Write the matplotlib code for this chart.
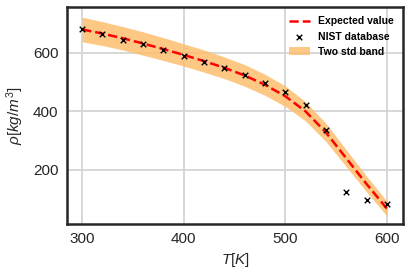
import matplotlib
matplotlib.use("Agg")
import matplotlib.pyplot as plt
import numpy as np

# Data
T_nist = [300, 320, 340, 360, 380, 400, 420, 440, 460, 480, 500, 520, 540, 560, 580, 600]
rho_nist = [681, 663, 645, 629, 610, 590, 569, 548, 523, 498, 465, 421, 337, 124, 97, 83]

T_pred = [300, 320, 340, 360, 380, 400, 420, 440, 460, 480, 500, 520, 540, 560, 580, 600]
rho_pred = [680, 666, 650, 632, 613, 593, 572, 549, 523, 491, 452, 400, 328, 240, 152, 68]
two_std = [42, 41, 40, 40, 39, 38, 38, 37, 37, 36, 35, 33, 31, 29, 27, 25]

plt.rcParams['font.family'] = ['Liberation Sans', 'DejaVu Sans']
plt.rcParams['mathtext.fontset'] = 'custom'
plt.rcParams['mathtext.it'] = 'Liberation Sans:italic'
plt.rcParams['mathtext.rm'] = 'Liberation Sans'

fig = plt.figure(figsize=(4.08, 2.78), dpi=100)
ax = fig.add_axes([0.164, 0.194, 0.824, 0.781])

lo = np.array(rho_pred) - np.array(two_std)
hi = np.array(rho_pred) + np.array(two_std)
ax.fill_between(T_pred, lo, hi, color='#fdbf6f', alpha=0.85, linewidth=0, label='Two std band', zorder=2)
ax.plot(T_pred, rho_pred, '--', color='red', linewidth=1.8, label='Expected value', zorder=3)
ax.scatter(T_nist, rho_nist, marker='x', color='black', s=16, linewidths=1.0, label='NIST database', zorder=4)

ax.set_xlim(285, 616)
ax.set_ylim(15, 757)
ax.set_xticks([300, 400, 500, 600])
ax.set_yticks([200, 400, 600])
ax.grid(True, color='#d4d4d4', linewidth=1.3, zorder=0)
ax.set_axisbelow(True)
for s in ax.spines.values():
    s.set_color('#262626')
    s.set_linewidth(1.8)
ax.tick_params(axis='both', length=0, labelsize=11, labelcolor='#262626', pad=6)
ax.set_xlabel(r'$T[K]$', fontsize=11, color='#262626', labelpad=3)
ax.set_ylabel(r'$\rho[kg/m^3]$', fontsize=11, color='#262626', labelpad=5)

handles, labels = ax.get_legend_handles_labels()
order = [labels.index('Expected value'), labels.index('NIST database'), labels.index('Two std band')]
leg = ax.legend([handles[i] for i in order], [labels[i] for i in order],
                loc='upper right', frameon=False, prop={'weight': 'bold', 'size': 7.5})

fig.savefig('out.png', dpi=100)
